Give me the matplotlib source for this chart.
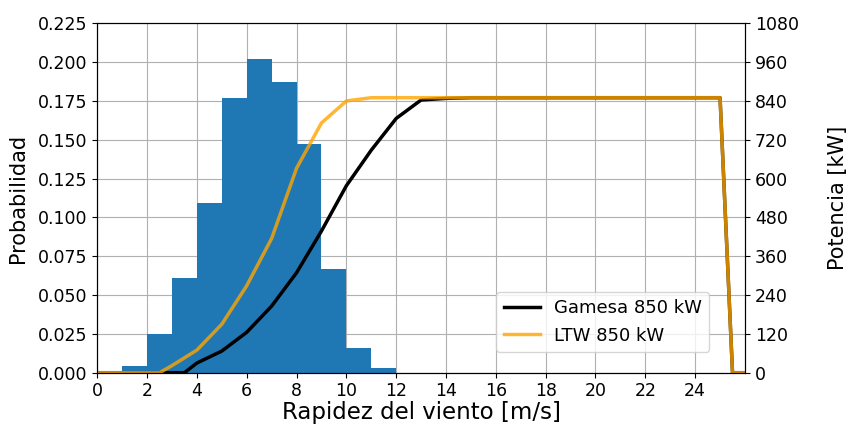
import matplotlib
matplotlib.use("Agg")
import matplotlib.pyplot as plt
import numpy as np

# histograma de la rapidez del viento (bins de 1 m/s)
bin_left = [0, 1, 2, 3, 4, 5, 6, 7, 8, 9, 10, 11]
prob = [0.0, 0.0045, 0.025, 0.061, 0.109, 0.177, 0.202, 0.1875, 0.147, 0.067, 0.016, 0.003]

# curvas de potencia
v_gamesa = [0, 3.5, 4, 5, 6, 7, 8, 9, 10, 11, 12, 13, 14, 15, 16, 17, 18, 19, 20,
            21, 22, 23, 24, 25, 25.5, 26]
p_gamesa = [0, 0, 30, 67, 125, 206, 309, 438, 578, 688, 786, 843, 848, 850, 850, 850,
            850, 850, 850, 850, 850, 850, 850, 850, 0, 0]

v_ltw = [0, 2.5, 3, 4, 5, 6, 7, 8, 9, 10, 11, 12, 13, 14, 15, 16, 17, 18, 19, 20,
         21, 22, 23, 24, 25, 25.5, 26]
p_ltw = [0, 0, 22, 70, 150, 269, 415, 632, 772, 840, 850, 850, 850, 850, 850, 850,
         850, 850, 850, 850, 850, 850, 850, 850, 850, 0, 0]

fig = plt.figure(figsize=(8.51, 4.26), dpi=100)
ax1 = fig.add_axes([0.1143, 0.1251, 0.7611, 0.8202])

ax1.bar(bin_left, prob, width=1, align="edge", color="#1f77b4")
ax1.set_xlim(0, 26)
ax1.set_ylim(0, 0.225)
ax1.set_xticks(np.arange(0, 25, 2))
ax1.set_yticks(np.arange(0, 0.2251, 0.025))
ax1.yaxis.set_major_formatter(matplotlib.ticker.FormatStrFormatter("%.3f"))
ax1.set_axisbelow(True)
ax1.grid(True, color="#b0b0b0", lw=0.8)
ax1.tick_params(labelsize=12.5)
ax1.set_xlabel("Rapidez del viento [m/s]", fontsize=16.5, labelpad=0.5)
ax1.set_ylabel("Probabilidad", fontsize=15, labelpad=7)

ax2 = ax1.twinx()
ax2.plot(v_gamesa, p_gamesa, color="black", lw=2.5, label="Gamesa 850 kW")
ax2.plot(v_ltw, p_ltw, color="orange", lw=2.5, alpha=0.8, label="LTW 850 kW")
ax2.set_ylim(0, 1080)
ax2.set_yticks(np.arange(0, 1081, 120))
ax2.tick_params(labelsize=12.5)
ax2.set_ylabel("Potencia [kW]", fontsize=15, labelpad=21)
ax2.legend(loc="lower right", bbox_to_anchor=(0.945, 0.06), borderaxespad=0,
           fontsize=13)

fig.savefig("out.png", dpi=100)
